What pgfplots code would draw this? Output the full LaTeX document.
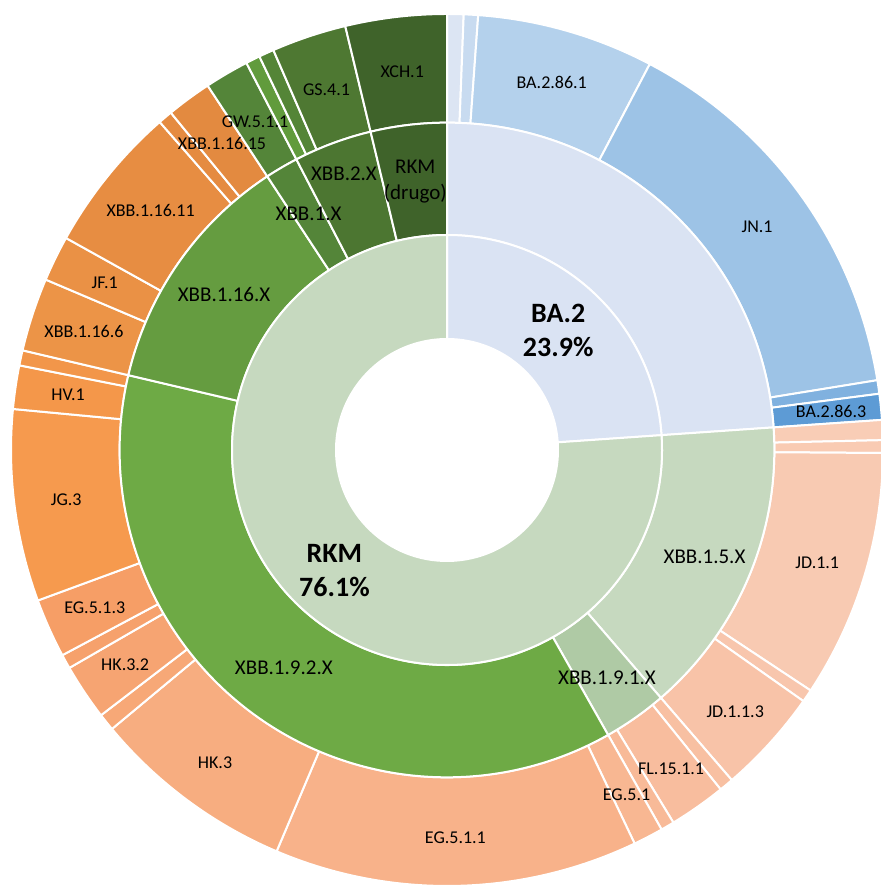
\documentclass[border=0pt]{standalone}
\usepackage{pgfplots}
\pgfplotsset{compat=1.18}
\usepackage{pgfplotstable}
\usepackage{fontspec}
\setmainfont{Carlito}

% value (%), colour, label, label radius (px)
\pgfplotstableread[col sep=comma]{
value,color,lab,lr
23.9,DAE3F3,BA.2\\23.9\%,163
76.1,C6D9BF,RKM\\76.1\%,165
}\ringA

\pgfplotstableread[col sep=comma]{
value,color,lab,lr
23.90,DAE3F3,,271
14.77,C6D9BF,XBB.1.5.X,279
3.14,AFCAA5,XBB.1.9.1.X,278
36.86,6EAA45,XBB.1.9.2.X,272
12.08,659C40,XBB.1.16.X,272
1.64,548539,XBB.1.X,274
3.86,4C7631,XBB.2.X,295
3.75,3F632A,RKM\\(drugo),270
}\ringB

\pgfplotstableread[col sep=comma]{
value,color,lab,lr
0.61,DCE5F3,,382
0.53,C8DBF0,,382
6.56,B4D1EC,BA.2.86.1,382
14.74,9DC3E6,JN.1,382
0.50,80B1DF,,382
0.96,5D9BD5,BA.2.86.3,386
0.74,F9CDB6,,382
0.47,F9CBB3,,382
9.19,F8CAB2,JD.1.1,387
0.47,F8C6AD,,382
3.90,F8C3A8,JD.1.1.3,389
0.53,F8C0A2,,382
2.11,F8BD9E,FL.15.1.1,390
0.50,F8BA98,,382
1.11,F8B792,EG.5.1,389
13.47,F8B28A,EG.5.1.1,388
7.56,F7AD80,HK.3,389
0.64,F7A877,,382
2.08,F6A472,HK.3.2,387
0.53,F6A16C,,382
2.19,F69E66,EG.5.1.3,386
7.11,F69A4E,JG.3,384
1.61,F4974A,HV.1,383
0.56,F2964A,,382
2.72,EC9447,XBB.1.16.6,382
1.69,EA9145,JF.1,381
5.47,E78D42,XBB.1.16.11,381
0.53,E58B41,,382
1.67,E38A40,XBB.1.16.15,380
1.64,548539,GW.5.1.1,380
0.53,619B3C,,382
0.56,548537,,382
2.77,4E7832,GS.4.1,380
3.75,3F632A,XCH.1,381
}\ringC

\pgfplotstablecreatecol[expr accum={\pgfmathaccuma+\thisrow{value}}{0}]{cum}\ringA
\pgfplotstablecreatecol[expr accum={\pgfmathaccuma+\thisrow{value}}{0}]{cum}\ringB
\pgfplotstablecreatecol[expr accum={\pgfmathaccuma+\thisrow{value}}{0}]{cum}\ringC

\pgfdeclareplotmark{nomark}{}

\pgfplotsset{
  wedgering/.style n args={3}{scatter, only marks, mark=nomark,
    point meta=\coordindex,
    visualization depends on={\coordindex\as\idx},
    scatter/@pre marker code/.append code={%
      \pgfkeys{/pgf/fpu=false}%
      \pgfmathtruncatemacro\ri{\idx}%
      \pgfplotstablegetelem{\ri}{color}\of{#1}\edef\wc{\pgfplotsretval}%
      \definecolor{wcol}{HTML}{\wc}%
      \pgfplotstablegetelem{\ri}{cum}\of{#1}\edef\cm{\pgfplotsretval}%
      \pgfplotstablegetelem{\ri}{value}\of{#1}\edef\vl{\pgfplotsretval}%
      \pgfmathsetmacro\aone{90-3.6*(\cm-\vl)}%
      \pgfmathsetmacro\atwo{90-3.6*\cm}%
      \fill[wcol, draw=white, line width=1.5pt, line join=round]
        (\aone:#2pt) arc[start angle=\aone, end angle=\atwo, radius=#2pt]
        -- (\atwo:#3pt) arc[start angle=\atwo, end angle=\aone, radius=#3pt]
        -- cycle;
    }},
  labelring/.style n args={2}{scatter, only marks, mark=nomark,
    point meta=\coordindex,
    visualization depends on={\coordindex\as\idx},
    scatter/@pre marker code/.append code={%
      \pgfkeys{/pgf/fpu=false}%
      \pgfmathtruncatemacro\ri{\idx}%
      \pgfplotstablegetelem{\ri}{cum}\of{#1}\edef\cm{\pgfplotsretval}%
      \pgfplotstablegetelem{\ri}{value}\of{#1}\edef\vl{\pgfplotsretval}%
      \pgfplotstablegetelem{\ri}{lr}\of{#1}\edef\lr{\pgfplotsretval}%
      \pgfplotstablegetelem{\ri}{lab}\of{#1}\let\lb\pgfplotsretval
      \pgfmathsetmacro\amid{90-3.6*(\cm-0.5*\vl)}%
      \pgfmathsetmacro\lrr{0.75*\lr}%
      \node[text=black, inner sep=0pt, align=center, font=#2]
        at (\amid:\lrr pt) {\lb};
    }},
}

\begin{document}
\begin{tikzpicture}
\begin{axis}[at={(0,0)}, anchor=south west, scale only axis,
  width=660pt, height=665.25pt,
  xmin=-447, xmax=433, ymin=-437, ymax=450,
  hide axis, clip=false]
\addplot[wedgering={\ringC}{245.5}{327}] table[x expr=0, y expr=0]{\ringC};
\addplot[wedgering={\ringB}{161.25}{245.5}] table[x expr=0, y expr=0]{\ringB};
\addplot[wedgering={\ringA}{83.25}{161.25}] table[x expr=0, y expr=0]{\ringA};
\addplot[labelring={\ringC}{\fontsize{13.5}{16}\selectfont}] table[x expr=0, y expr=0]{\ringC};
\addplot[labelring={\ringB}{\fontsize{15.75}{19.5}\selectfont}] table[x expr=0, y expr=0]{\ringB};
\addplot[labelring={\ringA}{\fontsize{21}{25.5}\selectfont\bfseries}] table[x expr=0, y expr=0]{\ringA};
\end{axis}
\pgfresetboundingbox
\useasboundingbox (0,0) rectangle (660pt,665.25pt);
\end{tikzpicture}
\end{document}
